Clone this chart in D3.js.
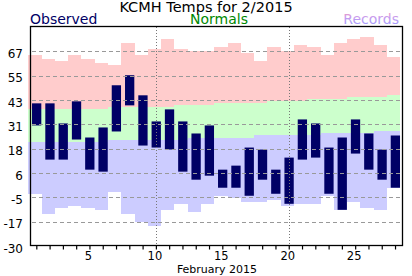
<!DOCTYPE html>
<html>
<head>
<meta charset="utf-8">
<script src="https://cdnjs.cloudflare.com/ajax/libs/d3/7.8.5/d3.min.js"></script>
<style>
  body { margin: 0; background: #fff; }
  svg text { font-family: "DejaVu Sans", Verdana, sans-serif; }
</style>
</head>
<body>
<div id="chart"></div>
<script>
// days of February 2015
var days = [1,2,3,4,5,6,7,8,9,10,11,12,13,14,15,16,17,18,19,20,21,22,23,24,25,26,27,28];

// observed high / low
var obsHigh = [41,41,31,42,24,29,50,55,45,32,38,32,26,30,8,10,19,18,8,14,33,31,19,24,33,26,18,25];
var obsLow  = [30,13,13,23,8,7,27,40,20,19,18,7,3,5,-1,-1,-5,3,-4,-9,13,14,-4,-12,16,8,3,-1];

// normals
var normHigh = [38,38,38,38,38,38,39,39,39,39,39,40,40,40,41,41,41,41,42,42,42,43,43,43,44,44,44,45];
var normLow  = [22,22,22,22,22,22,23,23,23,23,23,23,24,24,24,24,24,25,25,25,25,25,26,26,26,26,27,27];

// records
var recHigh = [65,63,62,65,63,61,60,71,65,68,73,68,67,67,69,71,66,62,69,67,70,69,65,71,73,74,70,64];
var recLow  = [-4,-14,-11,-10,-11,-12,-3,-14,-18,-20,-12,-9,-13,-9,-5,-6,-8,-8,-7,-10,-9,-9,-5,-12,-8,-11,-12,-1];

// axis labels
var yTickLabels = ["-30","-17","-5","6","18","31","43","55","67"];
var xTickLabels = [5,10,15,20,25];
var dottedDays = [10,20];

var W = 412, H = 276;
// plot box (note: "top" is taken by window.top, so use plotTop)
var plotLeft = 31, plotRight = 403, plotTop = 27, plotBottom = 246;

var svg = d3.select("#chart").append("svg")
  .attr("width", W)
  .attr("height", H);

var x = d3.scaleLinear().domain([0.6, 28.6]).range([plotLeft, plotRight]);
var y = d3.scaleLinear().domain([-30, 79]).range([plotBottom, plotTop]);

var data = days.map(function (d, i) {
  return { day: d, oh: obsHigh[i], ol: obsLow[i], nh: normHigh[i], nl: normLow[i], rh: recHigh[i], rl: recLow[i] };
});

//bands: records low (blue), normals (green), records high (pink)
function band(cls, color, hiKey, loKey) {
  svg.append("g").attr("class", cls)
    .selectAll("rect")
    .data(data)
    .enter().append("rect")
    .attr("x", function (d) { return x(d.day - 0.6); })
    .attr("width", function (d) { return x(d.day + 0.4) - x(d.day - 0.6); })
    .attr("y", function (d) { return y(d[hiKey]); })
    .attr("height", function (d) { return y(d[loKey]) - y(d[hiKey]); })
    .attr("shape-rendering", "crispEdges")
    .style("fill", color);
}
band("rec-low", "#ccccff", "nl", "rl");
band("normals", "#ccffcc", "nh", "nl");
band("rec-high", "#ffcccc", "rh", "nh");

//observed bars
svg.append("g").attr("class", "observed")
  .selectAll("rect")
  .data(data)
  .enter().append("rect")
  .attr("x", function (d) { return x(d.day) - 4.3; })
  .attr("width", 9.3)
  .attr("y", function (d) { return y(d.oh); })
  .attr("height", function (d) { return y(d.ol) - y(d.oh); })
  .style("fill", "#000066");

//horizontal dashed grid
var yTicks = yTickLabels.map(function (t, i) { return -30 + i * 109 / 9; });
svg.append("g").attr("class", "grid")
  .selectAll("line")
  .data(yTicks.slice(1))
  .enter().append("line")
  .attr("x1", plotLeft + 1)
  .attr("x2", plotRight)
  .attr("y1", function (d) { return Math.round(y(d)) + 0.5; })
  .attr("y2", function (d) { return Math.round(y(d)) + 0.5; })
  .attr("stroke", "#999")
  .attr("stroke-width", 1)
  .attr("stroke-dasharray", "4,3");

//vertical dotted lines
svg.append("g").attr("class", "vgrid")
  .selectAll("line")
  .data(dottedDays)
  .enter().append("line")
  .attr("x1", function (d) { return Math.round(x(d)) + 0.5; })
  .attr("x2", function (d) { return Math.round(x(d)) + 0.5; })
  .attr("y1", plotTop)
  .attr("y2", plotBottom)
  .attr("stroke", "#777")
  .attr("stroke-width", 1)
  .attr("stroke-dasharray", "1,2");

//frame
svg.append("rect")
  .attr("x", plotLeft - 0.5)
  .attr("y", plotTop - 0.5)
  .attr("width", plotRight - plotLeft)
  .attr("height", plotBottom - plotTop)
  .attr("fill", "none")
  .attr("stroke", "#000")
  .attr("stroke-width", 1.3);

//x axis ticks (each day)
var xAxis = d3.axisBottom(x).tickValues(days).tickSize(4).tickFormat("");
var gx = svg.append("g")
  .attr("transform", "translate(0," + (plotBottom - 0.5) + ")")
  .call(xAxis);
gx.select(".domain").remove();
gx.selectAll(".tick line").attr("stroke", "#000").attr("stroke-width", 1.2);

svg.append("g").selectAll("text")
  .data(xTickLabels)
  .enter().append("text")
  .attr("x", function (d) { return x(d) - 1; })
  .attr("y", 260)
  .attr("text-anchor", "middle")
  .style("font-size", "11.5px")
  .text(function (d) { return d; });

svg.append("text")
  .attr("x", (plotLeft + plotRight) / 2)
  .attr("y", 272.5)
  .attr("text-anchor", "middle")
  .style("font-size", "11px")
  .text("February 2015");

//y labels
svg.append("g").selectAll("text")
  .data(yTicks)
  .enter().append("text")
  .attr("x", 23)
  .attr("y", function (d) { return y(d) + 6.5; })
  .attr("text-anchor", "end")
  .style("font-size", "12px")
  .text(function (d, i) { return yTickLabels[i]; });

//title + legend
svg.append("text")
  .attr("x", 206)
  .attr("y", 12)
  .attr("text-anchor", "middle")
  .style("font-size", "14.5px")
  .style("fill", "#000")
  .text("KCMH Temps for 2/2015");

svg.append("text")
  .attr("x", 30)
  .attr("y", 23.5)
  .style("font-size", "14px")
  .style("fill", "#000066")
  .text("Observed");

svg.append("text")
  .attr("x", 219)
  .attr("y", 24)
  .attr("text-anchor", "middle")
  .style("font-size", "14px")
  .style("fill", "#008800")
  .text("Normals");

var grad = svg.append("defs").append("linearGradient")
  .attr("id", "recgrad")
  .attr("x1", 0).attr("y1", 0).attr("x2", 0).attr("y2", 1);
grad.append("stop").attr("offset", "0%").attr("stop-color", "#ff99aa");
grad.append("stop").attr("offset", "40%").attr("stop-color", "#c99cee");
grad.append("stop").attr("offset", "100%").attr("stop-color", "#9999ff");

svg.append("text")
  .attr("x", 399)
  .attr("y", 23.5)
  .attr("text-anchor", "end")
  .style("font-size", "14px")
  .style("fill", "url(#recgrad)")
  .text("Records");
</script>
</body>
</html>
